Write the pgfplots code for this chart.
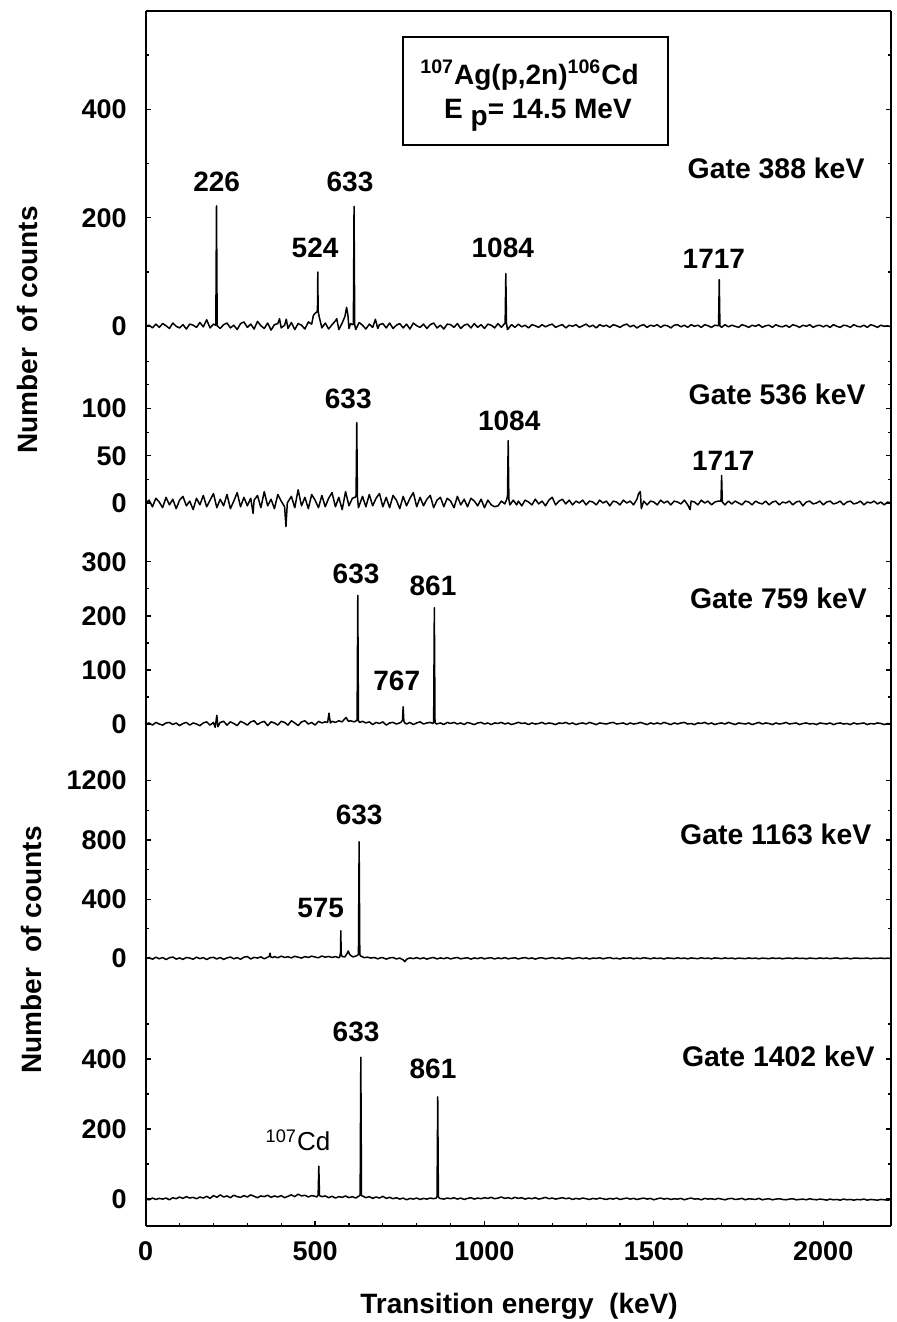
\documentclass[border=0pt]{standalone}
\usepackage{fontspec}
\setmainfont{Liberation Sans}
\usepackage{pgfplots}
\pgfplotsset{compat=1.18}
\pgfplotsset{
  panel/.style={
    scale only axis, width=372.65pt, xmin=0, xmax=2200,
    anchor=north west,
    tick align=inside,
    major tick length=2.4pt, minor tick length=1.4pt,
    every tick/.style={black, line width=0.6pt},
    axis line style={line width=0.9pt},
    /pgf/number format/assume math mode=true,
    /pgf/number format/1000 sep={},
    yticklabel style={font=\bfseries\fontsize{13.5}{14}\selectfont, xshift=-6pt},
    xticklabel style={font=\bfseries\fontsize{13.5}{14}\selectfont, yshift=-4.5pt},
  },
  spec/.style={black, line width=0.75pt, line join=round, mark=none},
}
\tikzset{
  lab/.style={font=\bfseries\fontsize{14}{15}\selectfont},
  gate/.style={font=\bfseries\fontsize{14.2}{15}\selectfont, anchor=east, inner sep=0pt},
}
\begin{document}
\begin{tikzpicture}
\useasboundingbox (0pt,0pt) rectangle (448.5pt,-661pt);

% ---------------- Panel 1: Gate 388 keV
\begin{axis}[panel, at={(72.85pt,-5.5pt)}, height=168.5pt,
  ymin=-40, ymax=581, ytick={0,200,400}, minor ytick={100,300,500},
  axis x line*=top, xtick=\empty]
\addplot[spec] coordinates {
(0,0)(10,2)(20,-3)(30,4)(40,-2)(50,5)(60,1)(70,-4)(80,6)(90,0)(100,-3)(110,3)(120,-5)(130,4)(140,2)(150,-2)(160,7)(170,-1)(180,12)(190,-3)(200,4)
(207,2)(209,222)(211,1)(220,-4)(230,3)(240,6)(250,-3)(260,2)(270,-6)(280,5)(290,8)(300,-2)(310,4)(320,-5)(330,9)(340,1)(350,-4)(360,6)(370,-7)(380,3)(390,5)(395,14)(400,-3)(410,2)(415,13)(420,-4)(430,7)(440,-6)(450,5)(460,2)(470,-5)(480,8)(490,4)
(495,20)(500,24)(505,26)(507,30)(508,100)(509,28)(512,18)(520,-3)(530,6)(540,-5)(550,3)(560,10)(564,14)(570,-6)(580,6)(588,18)(593,35)(597,20)(600,-4)(605,5)(610,3)(613,4)(615,221)(617,3)(620,-6)
(630,7)(640,2)(650,-5)(660,4)(670,-2)(678,13)(685,-4)(690,3)(700,5)(710,-3)(720,6)(730,-4)(740,2)(750,5)(760,-3)(770,4)(780,-5)(790,6)(800,1)(810,-2)(820,4)(830,-4)(840,3)(850,6)(860,-3)(870,2)(880,-5)(890,4)(900,3)(910,-2)(920,5)(930,-4)(940,2)(950,4)(960,-3)(970,5)(980,-2)(990,3)(1000,-4)(1010,4)(1020,2)(1030,-3)(1040,5)(1050,-2)
(1058,4)(1061,6)(1063,97)(1065,5)(1068,-6)(1080,3)(1090,-2)(1100,4)(1110,-1)(1120,2)(1130,-3)(1140,3)(1150,1)(1160,-2)(1170,3)(1180,-1)(1190,2)(1200,4)(1210,-2)(1220,1)(1230,3)(1240,-3)(1250,2)(1260,0)(1270,3)(1280,-2)(1290,1)(1300,4)(1310,-1)(1320,2)(1330,-3)(1340,3)(1350,0)(1360,2)(1370,-2)(1380,3)(1390,1)(1400,-2)(1410,2)(1420,4)(1430,-1)(1440,2)(1450,-3)(1460,1)(1470,3)(1480,-2)(1490,2)(1500,0)(1510,3)(1520,-2)(1530,2)(1540,1)(1550,-3)(1560,2)(1570,3)(1580,-1)(1590,2)(1600,-2)(1610,3)(1620,0)(1630,2)(1640,-2)(1650,3)(1660,1)(1670,-2)(1680,2)
(1691,1)(1693,86)(1695,1)(1700,-2)(1710,3)(1720,-1)(1730,2)(1740,0)(1750,-2)(1760,3)(1770,1)(1780,-2)(1790,2)(1800,0)(1810,3)(1820,-2)(1830,1)(1840,2)(1850,-2)(1860,3)(1870,0)(1880,-1)(1890,2)(1900,-2)(1910,3)(1920,1)(1930,-2)(1940,2)(1950,0)(1960,3)(1970,-2)(1980,1)(1990,2)(2000,-1)(2010,2)(2020,-2)(2030,3)(2040,0)(2050,-2)(2060,2)(2070,1)(2080,-2)(2090,3)(2100,0)(2110,-1)(2120,2)(2130,-2)(2140,3)(2150,1)(2160,-2)(2170,2)(2180,0)(2190,1)(2200,-1)
};
\node[lab] at (axis cs:209.6,266) {226};
\node[lab] at (axis cs:603,266) {633};
\node[lab] at (axis cs:500,144) {524};
\node[lab] at (axis cs:1054,144) {1084};
\node[lab] at (axis cs:1677,125) {1717};
\node[gate] at (axis cs:2123,291) {Gate 388 keV};
\draw[line width=1pt] (axis cs:759,534) rectangle (axis cs:1542,334);
\node[font=\bfseries\fontsize{14}{15}\selectfont] at (axis cs:1133,463) {\textsuperscript{107}Ag(p,2n)\textsuperscript{106}Cd};
\node[font=\bfseries\fontsize{14}{15}\selectfont] at (axis cs:1158,389) {E \raisebox{-3.5pt}{p}= 14.5 MeV};
\end{axis}

% ---------------- Panel 2: Gate 536 keV
\begin{axis}[panel, at={(72.85pt,-174pt)}, height=94.5pt,
  ymin=-36, ymax=164, ytick={0,50,100}, minor ytick={25,75,125,150},
  hide x axis]
\addplot[spec] coordinates {
(0,0)(10,3)(20,-4)(30,5)(40,1)(50,-5)(60,6)(70,-2)(80,4)(90,-6)(100,3)(110,7)(120,-3)(130,2)(140,-7)(150,5)(160,-2)(170,8)(180,-4)(190,3)(200,10)(210,-5)(220,4)(230,-3)(240,9)(250,-6)(260,2)(270,11)(280,-4)(290,6)(300,-3)(310,5)(317,-11)(320,3)(330,8)(340,-5)(350,12)(360,-3)(370,4)(380,-6)(390,9)(400,2)(410,-4)(414,-25)(418,0)(430,7)(440,-5)(450,14)(460,-3)(470,6)(480,-6)(490,9)(500,3)(510,-5)(520,8)(530,-4)(540,5)(550,11)(560,-4)(570,6)(580,-7)(590,12)(600,-3)(610,5)(618,6)(621,8)(623,85)(625,6)(628,-5)
(640,7)(650,-4)(660,9)(670,-3)(680,5)(690,10)(700,-4)(710,6)(720,-5)(730,8)(740,3)(750,-6)(760,7)(770,-3)(780,5)(790,11)(800,-4)(810,6)(820,-3)(830,4)(840,8)(850,-5)(860,3)(870,6)(880,-4)(890,5)(900,2)(910,-5)(920,7)(930,-2)(940,4)(950,-4)(960,5)(970,2)(980,-3)(990,4)(1000,-5)(1010,3)(1020,-2)(1030,-4)(1040,-3)(1050,2)(1060,-1)(1066,4)(1068,8)(1070,66)(1072,4)(1075,-2)(1085,3)(1095,-2)
(1100,2)(1110,-3)(1120,3)(1130,1)(1140,-2)(1150,4)(1160,-1)(1170,2)(1180,-3)(1190,3)(1200,6)(1210,-2)(1220,2)(1230,4)(1240,-1)(1250,3)(1260,-2)(1270,2)(1280,0)(1290,3)(1300,-2)(1310,2)(1320,1)(1330,-2)(1340,3)(1350,0)(1360,2)(1370,-3)(1380,2)(1390,1)(1400,-2)(1410,3)(1420,0)(1430,2)(1440,-2)(1450,4)(1455,10)(1460,12)(1463,-6)(1470,2)(1480,-2)(1490,2)(1500,1)(1510,-2)(1520,3)(1530,0)(1540,2)(1550,-2)(1560,2)(1570,1)(1580,-1)(1590,3)(1600,-2)(1607,-7)(1610,2)(1620,1)(1630,-2)(1640,3)(1650,0)(1660,2)(1670,-2)(1680,1)(1690,2)(1698,2)(1700,29)(1702,1)
(1710,-2)(1720,2)(1730,-1)(1740,2)(1750,0)(1760,-2)(1770,2)(1780,1)(1790,-2)(1800,2)(1810,0)(1820,-1)(1830,2)(1840,-2)(1850,1)(1860,2)(1870,-2)(1880,1)(1890,0)(1900,2)(1910,-2)(1920,1)(1930,2)(1940,-3)(1950,1)(1960,2)(1970,-1)(1980,0)(1990,2)(2000,-2)(2010,1)(2020,2)(2030,-1)(2040,0)(2050,2)(2060,-2)(2070,1)(2080,2)(2090,-1)(2100,0)(2110,2)(2120,-2)(2130,1)(2140,0)(2150,2)(2160,-1)(2170,1)(2180,-2)(2190,1)(2200,0)
};
\node[lab] at (axis cs:598,110.6) {633};
\node[lab] at (axis cs:1073,87) {1084};
\node[lab] at (axis cs:1705,44.5) {1717};
\node[gate] at (axis cs:2126,115) {Gate 536 keV};
\end{axis}

% ---------------- Panel 3: Gate 759 keV
\begin{axis}[panel, at={(72.85pt,-268.5pt)}, height=110pt,
  ymin=-61, ymax=346, ytick={0,100,200,300}, minor ytick={50,150,250},
  hide x axis]
\addplot[spec] coordinates {
(0,0)(10,2)(20,-2)(30,3)(40,0)(50,-2)(60,2)(70,3)(80,-1)(90,2)(100,-3)(110,1)(120,3)(130,-2)(140,2)(150,0)(160,-3)(170,2)(180,4)(190,-2)(200,3)(205,-6)(210,16)(213,-5)(220,3)(230,5)(240,-2)(250,4)(260,1)(270,-3)(280,5)(290,2)(300,-2)(310,4)(320,6)(330,-1)(340,3)(350,5)(360,-3)(370,4)(380,2)(390,-2)(400,5)(410,3)(420,-2)(430,6)(440,2)(450,-3)(460,4)(470,6)(480,0)(490,3)(500,-2)(510,5)(520,2)(530,4)(537,3)(541,20)(545,2)(550,5)(560,3)(570,6)(580,4)(585,8)(592,12)(598,5)(605,6)(615,4)(622,6)(624,8)(626,238)(628,6)(632,3)
(640,5)(650,2)(660,4)(670,-1)(680,3)(690,1)(700,4)(710,-2)(720,2)(730,3)(740,0)(750,2)(755,4)(758,8)(760,32)(762,5)(765,2)(770,0)(780,3)(790,-1)(800,2)(810,4)(820,0)(830,2)(840,3)(848,1)(850,4)(852,215)(854,3)(858,0)(870,2)(880,-1)(890,3)
(900,1)(910,3)(920,0)(930,2)(940,-1)(950,3)(960,1)(970,-1)(980,2)(990,3)(1000,0)(1010,2)(1020,-1)(1030,2)(1040,1)(1050,3)(1060,0)(1070,2)(1080,-1)(1090,1)(1100,3)(1110,1)(1120,2)(1130,-1)(1140,2)(1150,0)(1160,1)(1170,3)(1180,0)(1190,2)(1200,1)(1210,-1)(1220,2)(1230,1)(1240,3)(1250,0)(1260,2)(1270,-1)(1280,1)(1290,2)(1300,0)(1310,3)(1320,1)(1330,-1)(1340,2)(1350,1)(1360,0)(1370,2)(1380,3)(1390,0)(1400,1)(1410,2)(1420,-1)(1430,2)(1440,0)(1450,1)(1460,3)(1470,1)(1480,-1)(1490,2)(1500,0)
(1510,2)(1520,0)(1530,3)(1540,1)(1550,-1)(1560,2)(1570,0)(1580,2)(1590,3)(1600,0)(1610,1)(1620,-1)(1630,2)(1640,1)(1650,3)(1660,0)(1670,2)(1680,-1)(1690,1)(1700,2)(1710,0)(1720,3)(1730,1)(1740,-1)(1750,2)(1760,1)(1770,0)(1780,2)(1790,-1)(1800,1)(1810,3)(1820,0)(1830,2)(1840,1)(1850,-1)(1860,2)(1870,0)(1880,1)(1890,3)(1900,0)(1910,1)(1920,2)(1930,-1)(1940,1)(1950,2)(1960,0)(1970,1)(1980,-1)(1990,2)(2000,1)(2010,0)(2020,2)(2030,-1)(2040,1)(2050,2)(2060,0)(2070,1)(2080,-1)(2090,2)(2100,0)(2110,1)(2120,2)(2130,-1)(2140,1)(2150,0)(2160,2)(2170,1)(2180,-1)(2190,1)(2200,0)
};
\node[lab] at (axis cs:621,278.6) {633};
\node[lab] at (axis cs:848,255) {861};
\node[lab] at (axis cs:741,79.5) {767};
\node[gate] at (axis cs:2130,232) {Gate 759 keV};
\end{axis}

% ---------------- Panel 4: Gate 1163 keV
\begin{axis}[panel, at={(72.85pt,-378.5pt)}, height=114pt,
  ymin=-180, ymax=1360, ytick={0,400,800,1200}, minor ytick={200,600,1000},
  hide x axis]
\addplot[spec] coordinates {
(0,0)(10,5)(20,-6)(30,8)(40,-3)(50,6)(60,-8)(70,4)(80,9)(90,-5)(100,3)(110,-7)(120,6)(130,2)(140,-6)(150,8)(160,-2)(170,5)(180,-8)(190,4)(200,7)(210,-4)(220,6)(230,-7)(240,3)(250,9)(260,-3)(270,5)(280,-6)(290,8)(300,12)(310,-4)(320,7)(330,2)(340,10)(350,-3)(360,8)(365,14)(367,35)(369,10)(375,5)(380,12)(390,4)(400,15)(410,6)(420,11)(430,3)(440,14)(450,8)(460,2)(470,12)(480,6)(490,15)(500,9)(510,4)(520,16)(530,8)(540,13)(550,6)(560,12)(565,8)(570,5)(573,10)(575,40)(576,186)(577,30)(580,12)(588,10)(595,35)(598,50)(601,30)(605,20)(612,10)(620,15)(626,22)(628,30)(630,788)(632,25)(635,15)
(645,5)(655,8)(665,2)(675,6)(685,-3)(695,5)(700,4)(710,-5)(720,3)(730,6)(740,-4)(750,2)(760,-10)(765,-22)(770,-6)(780,3)(790,-2)
(800,5)(810,-3)(820,4)(830,-5)(840,2)(850,6)(860,-4)(870,3)(880,-2)(890,5)(900,-4)(910,2)(920,6)(930,-3)(940,1)(950,4)(960,-5)(970,3)(980,-2)(990,5)(1000,-3)(1010,2)(1020,4)(1030,-4)(1040,3)(1050,-2)(1060,5)(1070,-3)(1080,1)(1090,4)(1100,-4)(1110,2)(1120,5)(1130,-2)(1140,3)(1150,-5)(1160,2)(1170,4)(1180,-3)(1190,1)(1200,5)(1210,-2)(1220,3)(1230,-4)(1240,2)(1250,4)(1260,-3)(1270,1)(1280,5)(1290,-2)(1300,3)(1310,-4)(1320,2)(1330,0)(1340,4)(1350,-3)(1360,2)(1370,5)(1380,-2)(1390,1)(1400,-4)(1410,3)(1420,0)(1430,4)(1440,-3)(1450,2)(1460,-2)(1470,4)(1480,1)(1490,-3)(1500,3)
(1510,-1)(1520,2)(1530,-4)(1540,3)(1550,1)(1560,-2)(1570,4)(1580,-1)(1590,2)(1600,-3)(1610,3)(1620,0)(1630,-2)(1640,4)(1650,-1)(1660,2)(1670,-3)(1680,3)(1690,1)(1700,-2)(1710,3)(1720,-1)(1730,2)(1740,-3)(1750,2)(1760,0)(1770,-2)(1780,3)(1790,-1)(1800,2)(1810,-3)(1820,2)(1830,0)(1840,-2)(1850,3)(1860,-1)(1870,2)(1880,-3)(1890,1)(1900,2)(1910,-2)(1920,3)(1930,-1)(1940,1)(1950,-3)(1960,2)(1970,0)(1980,-2)(1990,3)(2000,-1)(2010,2)(2020,-2)(2030,1)(2040,3)(2050,-2)(2060,0)(2070,2)(2080,-3)(2090,1)(2100,2)(2110,-1)(2120,0)(2130,2)(2140,-2)(2150,1)(2160,0)(2170,2)(2180,-1)(2190,1)(2200,0)
};
\node[lab] at (axis cs:630,968) {633};
\node[lab] at (axis cs:516.5,342) {575};
\node[gate] at (axis cs:2143,840) {Gate 1163 keV};
\end{axis}

% ---------------- Panel 5: Gate 1402 keV
\begin{axis}[panel, at={(72.85pt,-492.5pt)}, height=120.35pt,
  ymin=-76, ymax=611, ytick={0,200,400}, minor ytick={100,300,500},
  axis x line*=bottom, xtick={0,500,1000,1500,2000}, minor x tick num=4]
\addplot[spec] coordinates {
(0,0)(10,-2)(20,3)(30,-1)(40,2)(50,0)(60,3)(70,-2)(80,4)(90,1)(100,6)(110,2)(120,7)(130,3)(140,5)(150,1)(160,6)(170,3)(180,8)(190,2)(200,10)(210,5)(220,12)(230,6)(240,9)(250,4)(260,11)(270,7)(280,5)(290,10)(300,6)(310,12)(320,8)(330,4)(340,9)(350,7)(360,11)(370,5)(380,9)(390,6)(400,10)(410,4)(420,8)(430,12)(440,7)(450,14)(460,9)(470,11)(480,6)(490,10)(500,8)(505,6)(509,12)(511,94)(513,10)(520,7)(530,9)(540,4)(550,8)(560,3)(570,7)(580,5)(590,9)(600,4)(610,7)(620,3)(630,9)(633,12)(635,405)(637,10)(642,8)
(650,4)(660,7)(670,2)(680,6)(690,3)(700,8)(710,2)(720,5)(730,1)(740,4)(750,0)(760,3)(770,-2)(780,2)(790,0)(800,3)(810,-1)(820,2)(830,0)(840,3)(850,1)(858,3)(860,8)(862,292)(864,6)(868,2)(880,0)
(890,3)(900,1)(910,4)(920,0)(930,3)(940,-1)(950,2)(960,4)(970,0)(980,3)(990,1)(1000,4)(1010,2)(1020,5)(1030,1)(1040,3)(1050,6)(1060,2)(1070,4)(1080,1)(1090,5)(1100,2)(1110,4)(1120,0)(1130,3)(1140,1)(1150,4)(1160,0)(1170,2)(1180,5)(1190,1)(1200,3)(1210,0)(1220,2)(1230,4)(1240,1)(1250,3)(1260,-1)(1270,2)(1280,0)(1290,3)(1300,1)(1310,-1)(1320,2)(1330,0)(1340,3)(1350,1)(1360,-1)(1370,2)(1380,0)(1390,3)(1400,-1)(1410,1)(1420,3)(1430,0)(1440,2)(1450,-1)(1460,1)(1470,3)(1480,0)(1490,2)(1500,-2)
(1510,1)(1520,3)(1530,0)(1540,2)(1550,-1)(1560,1)(1570,0)(1580,2)(1590,-2)(1600,1)(1610,3)(1620,0)(1630,1)(1640,-2)(1650,2)(1660,0)(1670,1)(1680,-1)(1690,2)(1700,0)(1710,-2)(1720,1)(1730,2)(1740,-1)(1750,0)(1760,2)(1770,-2)(1780,1)(1790,0)(1800,-1)(1810,2)(1820,-2)(1830,0)(1840,1)(1850,-2)(1860,0)(1870,1)(1880,-1)(1890,-2)(1900,0)(1910,1)(1920,-2)(1930,-1)(1940,0)(1950,-2)(1960,1)(1970,-1)(1980,-2)(1990,0)(2000,-1)(2010,-3)(2020,0)(2030,-2)(2040,-1)(2050,-3)(2060,0)(2070,-2)(2080,-1)(2090,-3)(2100,-1)(2110,-2)(2120,0)(2130,-3)(2140,-1)(2150,-2)(2160,-3)(2170,-1)(2180,-2)(2190,-3)(2200,-2)
};
\node[lab] at (axis cs:621,478) {633};
\node[lab] at (axis cs:848,371) {861};
\node[font=\fontsize{13}{14}\selectfont] at (axis cs:449.5,168) {\textsuperscript{107}Cd};
\node[gate] at (axis cs:2153,407) {Gate 1402 keV};
\end{axis}

% axis titles
\node[rotate=90, font=\bfseries\fontsize{14}{15}\selectfont] at (13.5pt,-165pt) {Number\ \ of counts};
\node[rotate=90, font=\bfseries\fontsize{14}{15}\selectfont] at (15.5pt,-475pt) {Number\ \ of counts};
\node[font=\bfseries\fontsize{14}{15}\selectfont] at (259.5pt,-653.3pt) {Transition energy\ \ (keV)};
\end{tikzpicture}
\end{document}
